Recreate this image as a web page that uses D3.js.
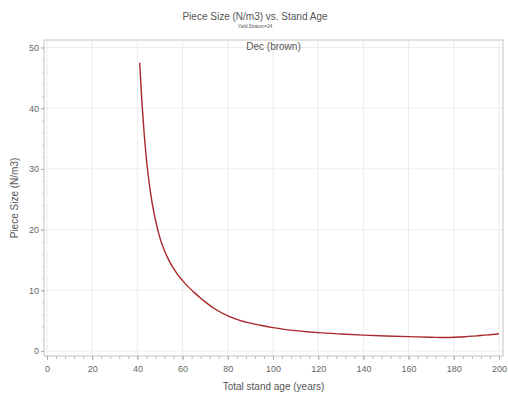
<!DOCTYPE html>
<html>
<head>
<meta charset="utf-8">
<script src="https://cdn.jsdelivr.net/npm/d3@7"></script>
<style>
  html, body { margin: 0; padding: 0; background: #fff; }
  svg { display: block; font-family: "Liberation Sans", Arial, sans-serif; }
</style>
</head>
<body>
<svg id="chart" width="508" height="398"></svg>
<script>
// Piece size curve for yield stratum 24, deciduous (brown)
const ages = [41, 42, 43, 44, 45, 46, 47, 48, 49, 50, 52, 54, 56, 58, 60, 63, 65, 68, 70, 74,
              80, 85, 90, 95, 100, 105, 110, 115, 120, 130, 140, 150, 160, 170, 177, 185, 190, 195, 200];
const pieceSize = [47.5, 41.0, 35.8, 31.6, 28.3, 25.6, 23.4, 21.6, 20.0, 18.6, 16.5, 14.9, 13.6, 12.5, 11.6, 10.4, 9.7, 8.7, 8.1, 7.0,
                   5.8, 5.1, 4.6, 4.2, 3.85, 3.57, 3.35, 3.17, 3.02, 2.8, 2.62, 2.48, 2.37, 2.27, 2.22, 2.35, 2.5, 2.65, 2.85];
const xTicks = [0, 20, 40, 60, 80, 100, 120, 140, 160, 180, 200];
const yTicks = [0, 10, 20, 30, 40, 50];

const titleText = "Piece Size (N/m3) vs. Stand Age";
const subtitleText = "Yield Stratum=24";
const groupLabel = "Dec (brown)";
const xTitle = "Total stand age (years)";
const yTitle = "Piece Size (N/m3)";

const svg = d3.select("#chart");
const frame = { left: 44, right: 503, top: 40, bottom: 356 };

const x = d3.scaleLinear().domain([0, 200]).range([47, 499]);
const y = d3.scaleLinear().domain([0, 50]).range([351, 47.5]);

const textCol = "#555";
const tickTextCol = "#666";
const gridCol = "#ececec";
const frameCol = "#c4c4c4";

// grid
svg.append("g").selectAll("line").data(xTicks).join("line")
  .attr("x1", d => x(d)).attr("x2", d => x(d))
  .attr("y1", frame.top).attr("y2", frame.bottom)
  .attr("stroke", gridCol).attr("stroke-width", 1);
svg.append("g").selectAll("line").data(yTicks).join("line")
  .attr("x1", frame.left).attr("x2", frame.right)
  .attr("y1", d => y(d)).attr("y2", d => y(d))
  .attr("stroke", gridCol).attr("stroke-width", 1);

// frame
svg.append("rect")
  .attr("x", frame.left).attr("y", frame.top)
  .attr("width", frame.right - frame.left).attr("height", frame.bottom - frame.top)
  .attr("fill", "none").attr("stroke", frameCol).attr("stroke-width", 1);

// x axis: minor ticks every 4 years, labelled majors every 20
const xAxis = svg.append("g").attr("transform", `translate(0,${frame.bottom})`);
xAxis.call(d3.axisBottom(x).tickValues(d3.range(0, 201, 4)).tickSize(3).tickFormat(""))
  .call(g => g.select(".domain").remove())
  .call(g => g.selectAll("line").attr("stroke", "#bbb"));
xAxis.append("g")
  .call(d3.axisBottom(x).tickValues(xTicks).tickSize(4).tickPadding(6))
  .call(g => g.select(".domain").remove())
  .call(g => g.selectAll("line").attr("stroke", "#aaa"))
  .call(g => g.selectAll("text").attr("fill", tickTextCol).attr("font-size", 9).attr("font-family", "Liberation Sans, Arial, sans-serif"));

// y axis
const yAxis = svg.append("g").attr("transform", `translate(${frame.left},0)`);
yAxis.call(d3.axisLeft(y).tickValues(d3.range(0, 51, 2)).tickSize(2).tickFormat(""))
  .call(g => g.select(".domain").remove())
  .call(g => g.selectAll("line").attr("stroke", "#ccc"));
yAxis.append("g")
  .call(d3.axisLeft(y).tickValues(yTicks).tickSize(3).tickPadding(2))
  .call(g => g.select(".domain").remove())
  .call(g => g.selectAll("line").attr("stroke", "#aaa"))
  .call(g => g.selectAll("text").attr("fill", tickTextCol).attr("font-size", 9).attr("font-family", "Liberation Sans, Arial, sans-serif"));

// curve
const pts = ages.map((a, i) => [a, pieceSize[i]]);
svg.append("path")
  .datum(pts)
  .attr("fill", "none")
  .attr("stroke", "#a8282c")
  .attr("stroke-width", 1.4)
  .attr("d", d3.line().x(d => x(d[0])).y(d => y(d[1])).curve(d3.curveMonotoneX));

// titles
svg.append("text").attr("x", 255).attr("y", 20).attr("text-anchor", "middle")
  .attr("font-size", 10).attr("fill", textCol).text(titleText);
svg.append("text").attr("x", 255).attr("y", 28).attr("text-anchor", "middle")
  .attr("font-size", 4.5).attr("fill", textCol).text(subtitleText);
svg.append("text").attr("x", (frame.left + frame.right) / 2).attr("y", 50).attr("text-anchor", "middle")
  .attr("font-size", 10).attr("fill", textCol).text(groupLabel);
svg.append("text").attr("x", (frame.left + frame.right) / 2).attr("y", 390).attr("text-anchor", "middle")
  .attr("font-size", 10).attr("fill", textCol).text(xTitle);
svg.append("text")
  .attr("transform", `translate(18,${(frame.top + frame.bottom) / 2}) rotate(-90)`)
  .attr("text-anchor", "middle").attr("font-size", 10).attr("fill", textCol).text(yTitle);
</script>
</body>
</html>
